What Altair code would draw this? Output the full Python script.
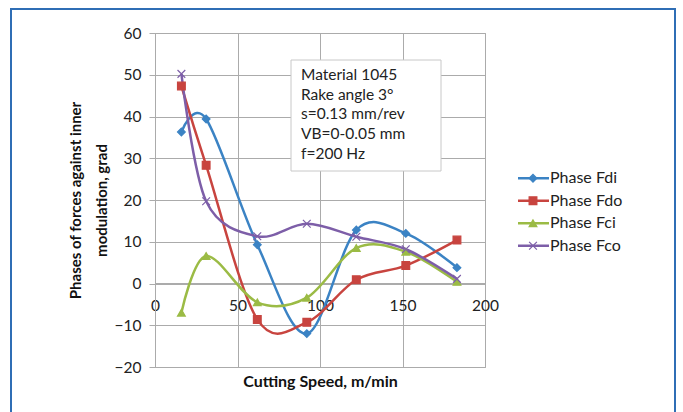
import altair as alt
import pandas as pd

# ---- data ----
speed = [16, 31, 62, 92, 122, 152, 183]
phase_fdi = [36.3, 39.4, 9.3, -12.0, 12.8, 12.0, 3.8]
phase_fdo = [47.3, 28.3, -8.6, -9.3, 0.9, 4.3, 10.4]
phase_fci = [-7.0, 6.6, -4.5, -3.4, 8.5, 7.6, 0.4]
phase_fco = [50.2, 19.7, 11.3, 14.3, 11.2, 8.2, 1.1]

series_names = ["Phase Fdi", "Phase Fdo", "Phase Fci", "Phase Fco"]
series_values = [phase_fdi, phase_fdo, phase_fci, phase_fco]
colors = ["#3b83c4", "#c8443f", "#9bbb45", "#7d5ea8"]
shapes = ["diamond", "square", "triangle-up", "M-1,-1L1,1M-1,1L1,-1"]

x_ticks = [0, 50, 100, 150, 200]
y_ticks = [-20, -10, 0, 10, 20, 30, 40, 50, 60]

note_lines = ["Material 1045", "Rake angle  3°", "s=0.13 mm/rev", "VB=0-0.05 mm", "f=200 Hz"]

rows = []
for name, vals in zip(series_names, series_values):
    for s, v in zip(speed, vals):
        rows.append({"speed": s, "phase": v, "series": name})
df = pd.DataFrame(rows)
legend_df = pd.DataFrame({"series": series_names})

FONT = "Lato"
GRID = "#ababab"
W, H = 330, 334

color_scale = alt.Scale(domain=series_names, range=colors)
shape_scale = alt.Scale(domain=series_names, range=shapes)

x_enc = alt.X(
    "speed:Q",
    scale=alt.Scale(domain=[0, 200], nice=False),
    axis=alt.Axis(
        values=x_ticks, title="Cutting Speed, m/min", offset=-84,
        grid=True, gridColor=GRID, ticks=False, domainColor=GRID,
        labelFlush=False, labelOverlap=False,
        labelPadding=15, labelFontSize=15.5, labelColor="#222",
        titleFontSize=16, titleFontWeight="bold", titleColor="#111",
        titleY=98, titleBaseline="middle", labelFont=FONT, titleFont=FONT,
    ),
)
y_enc = alt.Y(
    "phase:Q",
    scale=alt.Scale(domain=[-20, 60], nice=False),
    axis=alt.Axis(
        values=y_ticks, title=["Phases of forces against inner", "modulation, grad"],
        grid=True, gridColor=GRID, tickColor=GRID, tickSize=6, domainColor=GRID,
        labelFlush=False, labelOverlap=False,
        labelPadding=8, labelFontSize=15.5, labelColor="#222",
        titleFontSize=15, titleFontWeight="bold", titleColor="#111",
        titleX=-80, titleBaseline="middle", titleLineHeight=26,
        labelFont=FONT, titleFont=FONT,
    ),
)

base = alt.Chart(df)

lines = base.mark_line(interpolate="cardinal", tension=0, strokeWidth=2.5).encode(
    x=x_enc, y=y_enc,
    color=alt.Color("series:N", scale=color_scale, legend=None),
    detail="series:N",
)

points = base.mark_point(filled=True, size=60, strokeWidth=1.2, opacity=1).encode(
    x="speed:Q", y="phase:Q",
    color=alt.Color("series:N", scale=color_scale, legend=None),
    stroke=alt.Color("series:N", scale=color_scale, legend=None),
    shape=alt.Shape("series:N", scale=shape_scale, legend=None),
)

# annotation box
note_box = alt.Chart(legend_df.head(1)).mark_rect(
    fill="white", stroke="#c8c8c8", strokeWidth=1
).encode(x=alt.value(136), x2=alt.value(286), y=alt.value(27), y2=alt.value(138))

note_text = alt.Chart(legend_df.head(1)).mark_text(
    align="left", baseline="middle", font=FONT, fontSize=15.5, color="#222", lineHeight=19.7
).encode(x=alt.value(146), y=alt.value(42), text=alt.value(note_lines))

# custom legend (line + marker)
leg_y = alt.Y("series:N", scale=alt.Scale(domain=series_names, range=[134, 224]), axis=None)
leg_line = alt.Chart(legend_df).mark_rule(strokeWidth=2.5).encode(
    x=alt.value(W + 33), x2=alt.value(W + 64), y=leg_y,
    color=alt.Color("series:N", scale=color_scale, legend=None),
)
leg_point = alt.Chart(legend_df).mark_point(filled=True, size=60, strokeWidth=1.2, opacity=1).encode(
    x=alt.value(W + 48), y=leg_y,
    color=alt.Color("series:N", scale=color_scale, legend=None),
    stroke=alt.Color("series:N", scale=color_scale, legend=None),
    shape=alt.Shape("series:N", scale=shape_scale, legend=None),
)
leg_text = alt.Chart(legend_df).mark_text(
    align="left", baseline="middle", font=FONT, fontSize=16, color="#222"
).encode(x=alt.value(W + 65), y=leg_y, text="series:N")

frame = alt.Chart(legend_df.head(1)).mark_rect(
    fill=None, stroke="#2f6eb5", strokeWidth=2
).encode(x=alt.value(-144), x2=alt.value(520), y=alt.value(-24), y2=alt.value(400))

main = alt.layer(lines, points, note_box, note_text)
legend = alt.layer(leg_line, leg_point, leg_text)

chart = (
    alt.layer(frame, main, legend)
    .resolve_scale(y="independent", x="independent")
    .properties(
        width=W, height=H,
        autosize=alt.AutoSizeParams(type="none"),
        padding={"left": 155, "top": 33, "right": 198, "bottom": 45},
        background="white",
    )
    .configure_view(stroke=GRID, strokeWidth=1)
)

chart.save("out.html", embed_options={"renderer": "svg", "actions": False})
